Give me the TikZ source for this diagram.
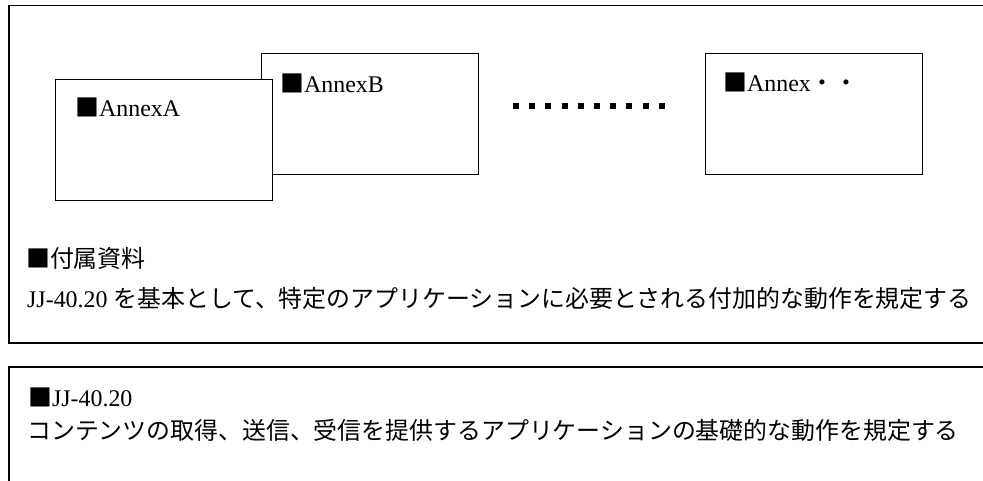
\documentclass[tikz,border=0pt]{standalone}
\usepackage{fontspec}
\setmainfont{Liberation Serif}
\newfontfamily\jp{Noto Sans CJK JP}
\begin{document}
\begin{tikzpicture}[x=1pt,y=-1pt,
  frame/.style={draw=black,line width=1.5pt,rectangle,inner sep=0pt,anchor=north west},
  annexbox/.style={draw=black,fill=white,line width=1.3pt,rectangle,inner sep=0pt,anchor=north west,minimum width=217pt,minimum height=121pt},
  txt/.style={anchor=base west,inner sep=0pt,font=\fontsize{23.9}{28}\selectfont}]
\useasboundingbox (0,0) rectangle (983,481);
\clip (0,0) rectangle (983,481);
\fill[white] (0,0) rectangle (983,481);
% outer frames
\node[frame,minimum width=982pt,minimum height=337pt] (top) at (8,5) {};
\node[frame,minimum width=982pt,minimum height=140pt] (base) at (8,366) {};
% annex boxes
\node[annexbox] (bb) at (261,53) {};
\node[annexbox] (ba) at (55,79) {};
\node[annexbox] (bc) at (705,53) {};
% dotted separator
\coordinate (d1) at (513,105.7);
\coordinate (d2) at (665,105.7);
\draw[line width=6pt,dash pattern=on 6pt off 10.2pt] (d1) -- (d2);
% labels
\node[txt] (la) at (75,117) {{\jp ■}AnnexA};
\node[txt] (lb) at (280,93) {{\jp ■}AnnexB};
\node[txt] (lc) at (723,92) {{\jp ■}Annex{\jp ・・}};
\node[txt] (t1) at (26,268) {{\jp ■付属資料}};
\node[txt] (t2) at (27,308) {JJ-40.20 {\jp を基本として、特定のアプリケーションに必要とされる付加的な動作を規定する}};
\node[txt] (t3) at (28,406) {{\jp ■}JJ-40.20};
\node[txt] (t4) at (27,439) {{\jp コンテンツの取得、送信、受信を提供するアプリケーションの基礎的な動作を規定する}};
\end{tikzpicture}
\end{document}
